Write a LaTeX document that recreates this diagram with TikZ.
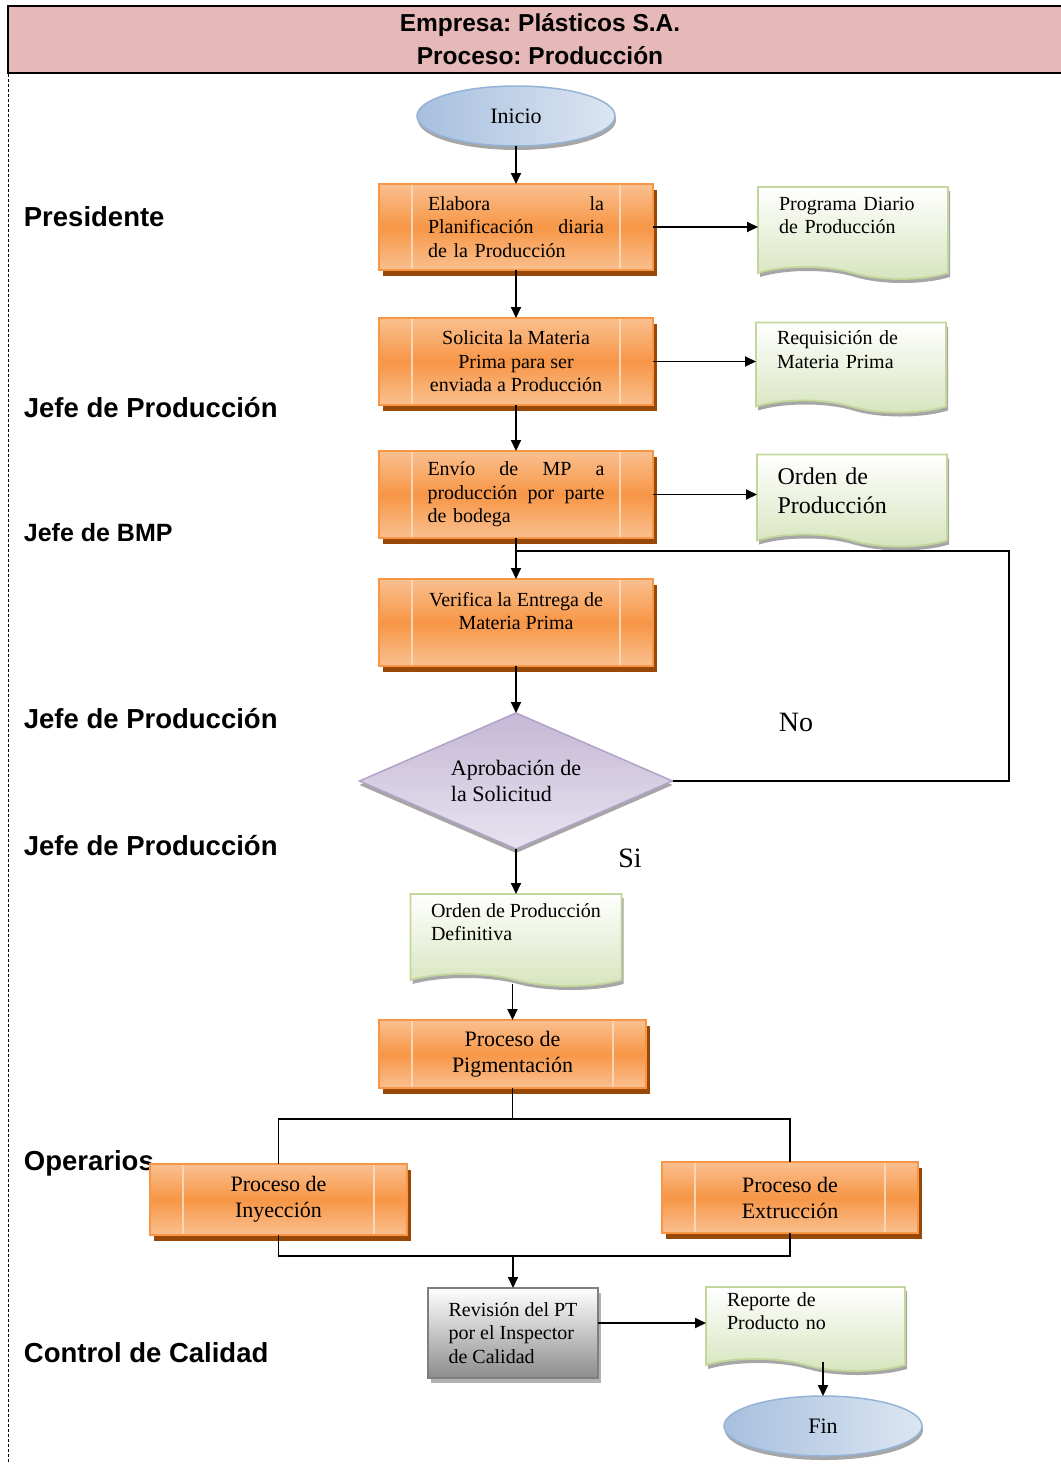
\documentclass[tikz,border=0pt]{standalone}
\usepackage{fontspec}
\setmainfont{Liberation Serif}
\setsansfont{Liberation Sans}
\usepackage{tikz}
\usetikzlibrary{arrows.meta,positioning,shapes.geometric,shapes.symbols,shadows,calc}
\frenchspacing
\hyphenpenalty=10000

\definecolor{hdrpink}{HTML}{E6B9B8}
\definecolor{orgdark}{HTML}{F79646}
\definecolor{orglight}{HTML}{FAC090}
\definecolor{orginner}{HTML}{FCD5B4}
\definecolor{orgshadow}{HTML}{984807}
\definecolor{docline}{HTML}{C3D69B}
\definecolor{docgreen}{HTML}{D7E4BD}
\definecolor{ovalblue}{HTML}{A7BFDE}
\definecolor{ovallight}{HTML}{DCE6F2}
\definecolor{ovalline}{HTML}{95B3D7}
\definecolor{decpurple}{HTML}{C4B8D6}
\definecolor{declight}{HTML}{E8E3EF}
\definecolor{decline}{HTML}{B3A2C7}
\definecolor{revgray}{HTML}{8C8C8C}
\definecolor{revline}{HTML}{7F7F7F}

\newcommand{\hdrfont}{\fontsize{24.5}{33}\selectfont\sffamily\bfseries}
\newcommand{\lanefont}{\fontsize{27.5}{32}\selectfont\sffamily\bfseries}
\newcommand{\boxfont}{\fontsize{20}{23.5}\selectfont}
\newcommand{\bigfont}{\fontsize{22}{26}\selectfont}
\newcommand{\docbigfont}{\fontsize{24}{29}\selectfont}
\newcommand{\answerfont}{\fontsize{28}{32}\selectfont}

\begin{document}
\begin{tikzpicture}[x=1pt,y=-1pt,>={Triangle[length=11pt,width=10pt]},
                    line width=1.8pt]
\tikzstyle{every node}=[]
\tikzstyle{every edge}=[draw,->,line width=1.8pt]
\tikzstyle{link}=[->,line width=1.8pt]
\tikzstyle{hdr}=[rectangle,draw=black,line width=2pt,fill=hdrpink,
   minimum width=1064pt,minimum height=67pt,font=\hdrfont,align=center]
\tikzstyle{lane}=[anchor=west,font=\lanefont,inner sep=0pt]
\tikzstyle{proc}=[rectangle,draw=orgdark,line width=1.5pt,outer sep=0pt,
   top color=orglight,bottom color=orglight,middle color=orgdark,
   drop shadow={shadow xshift=4pt,shadow yshift=-6pt,fill=orgshadow,opacity=1},
   minimum width=274pt,minimum height=87pt,inner sep=0pt,
   font=\boxfont,align=center,
   path picture={\draw[orginner,line width=1.5pt]
     ([xshift=33pt]path picture bounding box.north west) --
     ([xshift=33pt]path picture bounding box.south west)
     ([xshift=-33pt]path picture bounding box.north east) --
     ([xshift=-33pt]path picture bounding box.south east);}]
\tikzstyle{docu}=[tape,tape bend top=none,tape bend bottom=out and in,
   tape bend height=12pt,draw=docline,line width=1.8pt,outer sep=0pt,
   top color=white,bottom color=docgreen,
   drop shadow={shadow xshift=2pt,shadow yshift=-4pt,fill=black!35,opacity=1},
   inner sep=0pt,minimum width=190pt,minimum height=90pt,
   align=left,font=\boxfont]
\tikzstyle{term}=[ellipse,draw=ovalline,line width=1.5pt,outer sep=0pt,
   left color=ovalblue,right color=ovallight,
   drop shadow={shadow xshift=1pt,shadow yshift=-4pt,fill=black!35,opacity=1},
   minimum width=198pt,minimum height=60pt,inner sep=0pt,font=\bigfont]
\tikzstyle{decide}=[diamond,aspect=2.3,draw=decline,line width=1.5pt,outer sep=0pt,
   top color=decpurple,bottom color=declight,
   drop shadow={shadow xshift=0pt,shadow yshift=-4pt,fill=black!35,opacity=1},
   minimum width=313pt,minimum height=136pt,inner sep=0pt,
   align=left,font=\bigfont]
\tikzstyle{inspect}=[rectangle,draw=revline,line width=1.5pt,outer sep=0pt,
   top color=white,bottom color=revgray,
   drop shadow={shadow xshift=3pt,shadow yshift=-5pt,fill=black!30,opacity=1},
   minimum width=170pt,minimum height=90pt,inner sep=0pt,
   align=left,font=\boxfont]

\useasboundingbox (0,0) rectangle (1060,1464);

% header and lanes
\node[hdr] (header) at (540,39.5) {Empresa: Plásticos S.A.\\Proceso: Producción};
\draw[line width=1pt,dash pattern=on 3pt off 2pt]
  ([xshift=1pt]header.south west) -- ++(0,1392);

\node[lane] (presidente) at (23,217) {Presidente};
\node[lane] (jefeprod1) at (23,408) {Jefe de Producción};
\node[lane,font=\fontsize{25}{30}\selectfont\sffamily\bfseries] (jefebmp) at (23,533) {Jefe de BMP};
\node[lane] (jefeprod2) at (23,719) {Jefe de Producción};
\node[lane] (jefeprod3) at (23,846) {Jefe de Producción};
\node[lane] (operarios) at (23,1163) {Operarios};
\node[lane] (calidad) at (23,1353) {Control de Calidad};

% main column
\node[proc,text width=176pt,align=left,minimum height=86pt] (box1) at (516,227)
  {Elabora\hfill la\\Planificación\hfill diaria\\de la Producción};
\node[term] (inicio) [above=38pt of box1] {Inicio};
\node[proc] (box2) [below=48pt of box1]
  {Solicita la Materia\\Prima para ser\\enviada a Producción};
\node[proc,text width=177pt,align=left] (box3) [below=46pt of box2]
  {Envío\hfill de\hfill MP\hfill a\\producción\hfill por\hfill parte\\de bodega};
\node[proc] (box4) [below=41pt of box3]
  {Verifica la Entrega de\\Materia Prima\\\mbox{}};
\node[decide] (dec) [below=47pt of box4] {Aprobación de\\la Solicitud};
\node[docu,minimum width=211pt,minimum height=92pt] (defin) [below=45pt of dec]
  {Orden de Producción\\Definitiva\\\mbox{}};
\node[proc,font=\bigfont,minimum width=267pt,minimum height=68pt] (pig)
  [below=46pt of defin,xshift=-3.5pt] {Proceso de\\Pigmentación};

% documents
\node[docu,text width=148pt,minimum height=92pt] (prog) [right=105pt of box1]
  {Programa Diario\\de Producción\\\mbox{}};
\node[docu,text width=148pt] (req) [right=103pt of box2]
  {Requisición de\\Materia Prima\\\mbox{}};
\node[docu,text width=149pt,minimum height=92pt,font=\docbigfont] (orden) [right=104pt of box3]
  {Orden de\\Producción\\[-22pt]\mbox{}};

% operarios and control
\node[proc,font=\bigfont,minimum width=257pt,minimum height=71pt] (iny) at (278.5,1199.5)
  {Proceso de\\Inyección};
\node[proc,font=\bigfont,minimum width=256pt,minimum height=71pt] (ext) at (790,1197.5)
  {Proceso de\\Extrucción};
\node[inspect] (rev) at (513,1333) {Revisión del PT\\por el Inspector\\de Calidad};
\node[docu,text width=157pt,minimum width=199pt,minimum height=84pt] (reporte) at (805.5,1323)
  {Reporte de\\Producto no\\\mbox{}};
\node[term] (fin) at (823,1426) {Fin};

\node[font=\answerfont] (nolbl) at (796,722) {No};
\node[font=\answerfont] (silbl) at (630,858) {Si};

% connectors
\path (inicio) edge (box1)
      (box1) edge (prog) edge (box2)
      (box2) edge (req) edge (box3)
      (box3) edge (orden) edge (box4)
      (box4) edge (dec)
      (dec) edge (defin)
      ([yshift=-10pt]defin.south -| pig.north) edge (pig.north);

\coordinate (loopin) at ($(box3.south)+(0,-13pt)$);
\coordinate (loopx) at (1009,0);
\draw (dec.east) -| (loopin -| loopx) -- (loopin);

\coordinate (split) at ($(pig.south)+(0,-31pt)$);
\draw (pig.south) -- (split);
\draw (iny.north) |- (split) -| (ext.north);

\coordinate (merge) at ($(rev.north)+(0,32pt)$);
\draw (iny.south) |- (merge) -| (ext.south);
\draw[link] (merge) -- (rev.north);
\draw[link] (rev.east |- reporte.west) -- (reporte.west);
\draw[link] ([yshift=-3pt]fin.north |- reporte.south) -- (fin.north);
\end{tikzpicture}
\end{document}
